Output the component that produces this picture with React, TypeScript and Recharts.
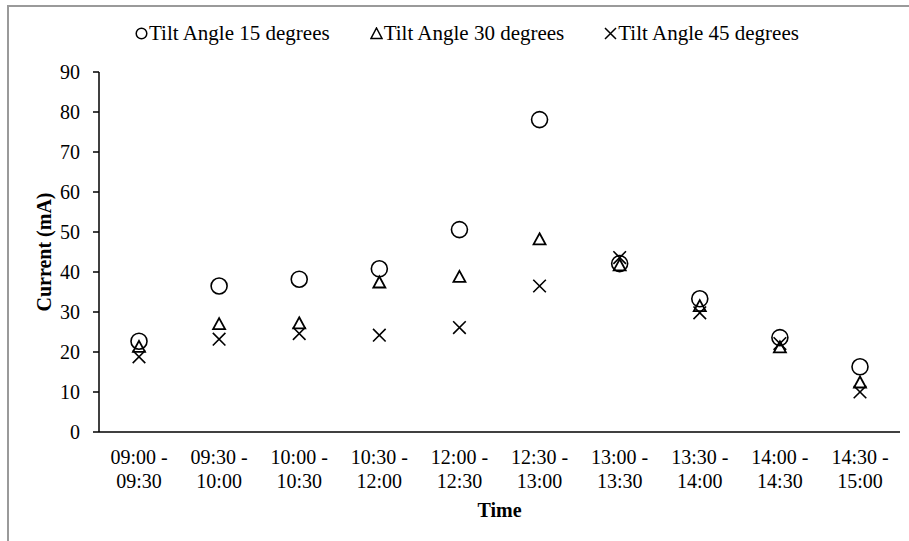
import React from 'react';
import { LineChart, Line, XAxis, YAxis, Legend } from 'recharts';

const categories = [
  '09:00 - 09:30',
  '09:30 - 10:00',
  '10:00 - 10:30',
  '10:30 - 12:00',
  '12:00 - 12:30',
  '12:30 - 13:00',
  '13:00 - 13:30',
  '13:30 - 14:00',
  '14:00 - 14:30',
  '14:30 - 15:00',
];
const tilt15 = [22.7, 36.5, 38.2, 40.8, 50.6, 78.1, 42.1, 33.3, 23.6, 16.3];
const tilt30 = [21.4, 27.1, 27.3, 37.5, 38.9, 48.3, 41.8, 31.6, 21.3, 12.5];
const tilt45 = [18.8, 23.2, 24.6, 24.2, 26.1, 36.5, 43.6, 29.8, 22.1, 10.0];
const yTicks = [0, 10, 20, 30, 40, 50, 60, 70, 80, 90];
const seriesNames = ['Tilt Angle 15 degrees', 'Tilt Angle 30 degrees', 'Tilt Angle 45 degrees'];
const xTitle = 'Time';
const yTitle = 'Current (mA)';

const data = categories.map((time, i) => ({
  time,
  t15: tilt15[i],
  t30: tilt30[i],
  t45: tilt45[i],
}));

const FONT = "'Liberation Serif', 'Times New Roman', 'DejaVu Serif', serif";
const SW = 1.6;

const circleDot = (p: any) => (
  <circle key={`c${p.index}`} cx={p.cx} cy={p.cy} r={8} fill="none" stroke="#000" strokeWidth={SW} />
);
const triDot = (p: any) => {
  const w = 12;
  const h = 11;
  const { cx, cy } = p;
  return (
    <path
      key={`t${p.index}`}
      d={`M${cx},${cy - h / 2}L${cx + w / 2},${cy + h / 2}L${cx - w / 2},${cy + h / 2}Z`}
      fill="none"
      stroke="#000"
      strokeWidth={1.8}
      strokeLinejoin="miter"
    />
  );
};
const xDot = (p: any) => {
  const s = 6.3;
  const { cx, cy } = p;
  return (
    <path
      key={`x${p.index}`}
      d={`M${cx - s},${cy - s}L${cx + s},${cy + s}M${cx - s},${cy + s}L${cx + s},${cy - s}`}
      fill="none"
      stroke="#000"
      strokeWidth={SW}
    />
  );
};

const LegendMarker = ({ kind }: { kind: number }) => (
  <svg width={13} height={13} style={{ display: 'block', marginRight: 1 }}>
    {kind === 0 && <circle cx={6.5} cy={6.5} r={5.3} fill="none" stroke="#000" strokeWidth={1.5} />}
    {kind === 1 && <path d="M6.5,1L12,11.5L1,11.5Z" fill="none" stroke="#000" strokeWidth={1.5} />}
    {kind === 2 && <path d="M1,1L12,12M1,12L12,1" fill="none" stroke="#000" strokeWidth={1.5} />}
  </svg>
);

const renderLegend = () => (
  <div
    style={{
      display: 'flex',
      justifyContent: 'flex-start',
      alignItems: 'center',
      paddingLeft: 135,
      height: 42,
      fontFamily: FONT,
      fontSize: 21,
      color: '#000',
      gap: 40,
    }}
  >
    {seriesNames.map((n, i) => (
      <div key={n} style={{ display: 'flex', alignItems: 'center', whiteSpace: 'nowrap' }}>
        <LegendMarker kind={i} />
        <span style={{ lineHeight: '24px' }}>{n}</span>
      </div>
    ))}
  </div>
);

const XTick = (props: any) => {
  const { x, y, payload } = props;
  const parts = String(payload.value).split(' - ');
  return (
    <text x={x} y={y} textAnchor="middle" fontFamily={FONT} fontSize={20} fill="#000">
      <tspan x={x} y={y + 31.5}>{parts[0] + ' -'}</tspan>
      <tspan x={x} y={y + 55.5}>{parts[1]}</tspan>
    </text>
  );
};

const XLabel = (props: any) => {
  const vb = props.viewBox || {};
  return (
    <text
      x={vb.x + vb.width / 2}
      y={vb.y + 85}
      textAnchor="middle"
      fontFamily={FONT}
      fontSize={20}
      fontWeight="bold"
      fill="#000"
    >
      {xTitle}
    </text>
  );
};

const YLabel = (props: any) => {
  const vb = props.viewBox || {};
  const cx = 44;
  const cy = vb.y + vb.height / 2;
  return (
    <text
      x={cx}
      y={cy}
      textAnchor="middle"
      dominantBaseline="central"
      transform={`rotate(-90, ${cx}, ${cy})`}
      fontFamily={FONT}
      fontSize={20}
      fontWeight="bold"
      fill="#000"
    >
      {yTitle}
    </text>
  );
};

export default function App() {
  return (
    <div
      style={{
        position: 'absolute',
        left: 0,
        top: 0,
        width: 909,
        height: 541,
        overflow: 'hidden',
        background: '#fff',
      }}
    >
      <div
        style={{
          position: 'absolute',
          left: 7,
          top: 5,
          width: 1000,
          height: 1000,
          borderLeft: '2px solid #9a9a9a',
          borderTop: '2px solid #9a9a9a',
        }}
      />
      <div style={{ position: 'absolute', left: 0, top: 0 }}>
        <LineChart width={909} height={541} data={data} margin={{ top: 12, right: 9, bottom: 9, left: 39 }}>
          <Legend
            verticalAlign="top"
            align="left"
            height={60}
            content={renderLegend}
            wrapperStyle={{ left: 0, top: 12, width: 909, height: 60 }}
          />
          <XAxis
            dataKey="time"
            type="category"
            height={100}
            padding={{ left: 40, right: 40 }}
            tickLine={false}
            tickSize={0}
            tickMargin={0}
            interval={0}
            axisLine={{ stroke: '#000', strokeWidth: 1.5 }}
            tick={<XTick />}
            label={XLabel}
          />
          <XAxis
            xAxisId="top"
            dataKey="time"
            orientation="top"
            height={0}
            tick={false}
            tickLine={false}
            axisLine={{ stroke: '#000', strokeWidth: 1.5 }}
          />
          <YAxis
            type="number"
            domain={[0, 90]}
            ticks={yTicks}
            interval={0}
            width={60}
            tickSize={6}
            tickMargin={13}
            tickLine={{ stroke: '#000', strokeWidth: 1.5 }}
            axisLine={{ stroke: '#000', strokeWidth: 1.5 }}
            tick={{ fontFamily: FONT, fontSize: 20, fill: '#000' }}
            label={YLabel}
          />
          <YAxis
            yAxisId="right"
            orientation="right"
            type="number"
            domain={[0, 90]}
            width={0}
            tick={false}
            tickLine={false}
            axisLine={{ stroke: '#000', strokeWidth: 1.5 }}
          />
          <Line dataKey="t15" name={seriesNames[0]} stroke="none" dot={circleDot} activeDot={false} isAnimationActive={false} />
          <Line dataKey="t30" name={seriesNames[1]} stroke="none" dot={triDot} activeDot={false} isAnimationActive={false} />
          <Line dataKey="t45" name={seriesNames[2]} stroke="none" dot={xDot} activeDot={false} isAnimationActive={false} />
        </LineChart>
      </div>
    </div>
  );
}
